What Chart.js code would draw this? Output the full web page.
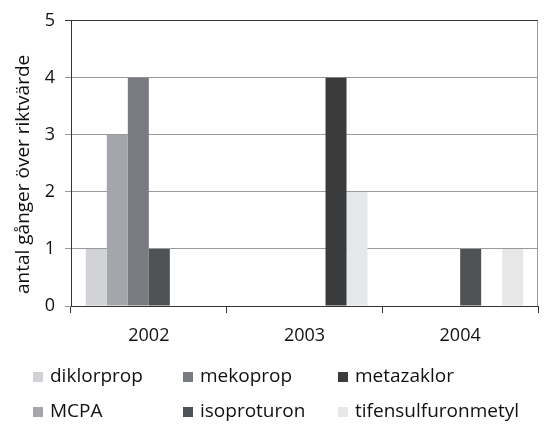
<!DOCTYPE html>
<html>
<head>
<meta charset="utf-8">
<script src="https://cdn.jsdelivr.net/npm/chart.js@4/dist/chart.umd.min.js"></script>
<style>
  html, body { margin: 0; padding: 0; background: #fff; }
  #wrap { position: relative; width: 545px; height: 424px; }
</style>
</head>
<body>
<div id="wrap"><canvas id="c" width="545" height="424"></canvas></div>
<script>
// Years on the category axis
const years = ['2002', '2003', '2004'];

// Number of times each substance exceeded its guideline value, per year
const diklorprop = [1, 0, 0];
const mcpa = [3, 0, 0];
const mekoprop = [4, 0, 0];
const isoproturon = [1, 0, 1];
const metazaklor = [0, 4, 0];
const tifensulfuronmetyl = [0, 2, 1];

const yTicks = [0, 1, 2, 3, 4, 5];
const yTitle = 'antal gånger över riktvärde';

const FONT = "'Open Sans', sans-serif";
const TEXT = '#111111';

// Legend laid out in three columns, filled top-to-bottom
const legendPlugin = {
  id: 'gridLegend',
  afterDraw(chart) {
    const ctx = chart.ctx;
    const cols = [33, 183, 338];
    const rows = [377, 412];
    ctx.save();
    ctx.font = '19px ' + FONT;
    ctx.textBaseline = 'middle';
    ctx.textAlign = 'left';
    chart.data.datasets.forEach((ds, i) => {
      const x = cols[Math.floor(i / 2)];
      const y = rows[i % 2];
      ctx.fillStyle = ds.backgroundColor;
      ctx.fillRect(x, y - 5, 10, 10);
      ctx.fillStyle = TEXT;
      ctx.fillText(ds.label, x + 17, y);
    });
    ctx.restore();
  }
};

// Vertical axis title, set slightly below the plot's midline
const yTitlePlugin = {
  id: 'yTitle',
  afterDraw(chart) {
    const a = chart.chartArea;
    const ctx = chart.ctx;
    ctx.save();
    ctx.translate(29, (a.top + a.bottom) / 2 + 11);
    ctx.rotate(-Math.PI / 2);
    ctx.font = '19px ' + FONT;
    ctx.fillStyle = TEXT;
    ctx.textAlign = 'center';
    ctx.textBaseline = 'alphabetic';
    ctx.fillText(yTitle, 0, 0);
    ctx.restore();
  }
};

// Right-hand frame line of the plot area
const framePlugin = {
  id: 'frame',
  afterDatasetsDraw(chart) {
    const a = chart.chartArea;
    const ctx = chart.ctx;
    ctx.save();
    ctx.strokeStyle = '#999999';
    ctx.lineWidth = 1;
    ctx.beginPath();
    ctx.moveTo(Math.round(a.right) - 0.5, a.top);
    ctx.lineTo(Math.round(a.right) - 0.5, a.bottom);
    ctx.stroke();
    ctx.restore();
  }
};

new Chart(document.getElementById('c'), {
  type: 'bar',
  data: {
    labels: years,
    datasets: [
      { label: 'diklorprop', data: diklorprop, backgroundColor: '#d0d2d5' },
      { label: 'MCPA', data: mcpa, backgroundColor: '#a4a6ab' },
      { label: 'mekoprop', data: mekoprop, backgroundColor: '#787b7f' },
      { label: 'isoproturon', data: isoproturon, backgroundColor: '#505356' },
      { label: 'metazaklor', data: metazaklor, backgroundColor: '#3a3b3d' },
      { label: 'tifensulfuronmetyl', data: tifensulfuronmetyl, backgroundColor: '#e6e7e8' }
    ]
  },
  options: {
    responsive: false,
    animation: false,
    layout: { padding: { top: 17, right: 7, left: 0, bottom: 0 } },
    datasets: { bar: { categoryPercentage: 0.81, barPercentage: 1.0, borderWidth: 0 } },
    plugins: {
      legend: { display: false },
      tooltip: { enabled: false }
    },
    scales: {
      x: {
        offset: true,
        grid: { offset: true, drawOnChartArea: false, tickLength: 7, color: '#333333' },
        border: { color: '#333333', width: 1 },
        ticks: { color: TEXT, font: { family: FONT, size: 18 }, padding: 12 },
        afterFit(scale) { scale.height = 118; }
      },
      y: {
        min: 0,
        max: 5,
        afterBuildTicks(scale) { scale.ticks = yTicks.map(v => ({ value: v })); },
        grid: {
          tickLength: 6,
          color: ctx => (ctx.tick && ctx.tick.value === 5 ? '#333333' : '#999999')
        },
        border: { color: '#333333', width: 1 },
        ticks: { color: TEXT, font: { family: FONT, size: 18 }, padding: 10 },
        afterFit(scale) { scale.width = 71; }
      }
    }
  },
  plugins: [framePlugin, yTitlePlugin, legendPlugin]
});
</script>
</body>
</html>
